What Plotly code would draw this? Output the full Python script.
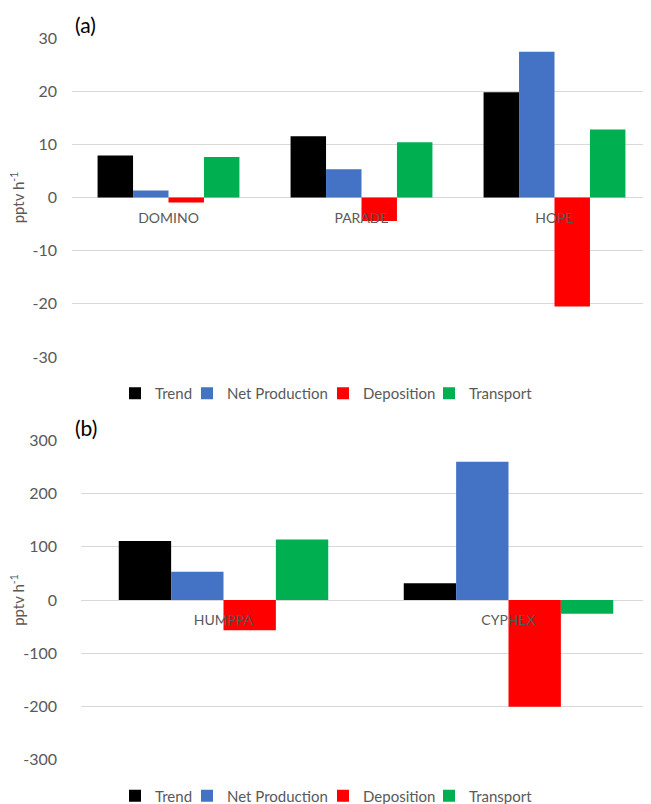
import plotly.graph_objects as go

# ---------------- data ----------------
categories_a = ["DOMINO", "PARADE", "HOPE"]
trend_a = [7.9, 11.5, 19.8]
netprod_a = [1.3, 5.3, 27.4]
depo_a = [-0.95, -4.4, -20.5]
transport_a = [7.6, 10.4, 12.8]

categories_b = ["HUMPPA", "CYPHEX"]
trend_b = [111, 31.5]
netprod_b = [53, 260]
depo_b = [-57, -201]
transport_b = [114, -26]

series_names = ["Trend", "Net Production", "Deposition", "Transport"]
series_colors = ["#000000", "#4472C4", "#FF0000", "#00B050"]

yticks_a = [-30, -20, -10, 0, 10, 20, 30]
yticks_b = [-300, -200, -100, 0, 100, 200, 300]

# ---------------- layout geometry ----------------
OFF = 8                      # page body margin in the browser
W, H = 651 - OFF, 804 - OFF  # figure size so it ends at the window edge
FONT = "Lato"
GRAY = "#595959"
GRID = "#D9D9D9"

def px(p):  # screen pixel from left -> paper fraction
    return (p - OFF) / W

def py(p):  # screen pixel from top -> paper fraction
    return 1 - (p - OFF) / H

legend_widths = [27, 91, 61, 65]   # per-entry legend slot widths

fig = go.Figure()

data_a = [trend_a, netprod_a, depo_a, transport_a]
data_b = [trend_b, netprod_b, depo_b, transport_b]

for name, color, vals, lw in zip(series_names, series_colors, data_a, legend_widths):
    fig.add_trace(go.Bar(x=categories_a, y=vals, name=name, marker_color=color,
                         marker_line_width=0, xaxis="x", yaxis="y",
                         legend="legend", legendwidth=lw))
for name, color, vals, lw in zip(series_names, series_colors, data_b, legend_widths):
    fig.add_trace(go.Bar(x=categories_b, y=vals, name=name, marker_color=color,
                         marker_line_width=0, xaxis="x2", yaxis="y2",
                         legend="legend2", legendwidth=lw))

ya_dom = [py(357), py(38)]
yb_dom = [py(759.5), py(440.5)]

common_y = dict(showgrid=True, gridcolor=GRID, gridwidth=1, zeroline=True,
                zerolinecolor=GRID, zerolinewidth=1, showline=False, ticks="",
                tickfont=dict(family=FONT, size=16, color=GRAY),
                ticklabelstandoff=14, automargin=False)
common_x = dict(showgrid=False, zeroline=False, showline=False, ticks="",
                tickfont=dict(family=FONT, size=14, color=GRAY),
                anchor="free", ticklabelstandoff=10, automargin=False)

legend_common = dict(orientation="h", xanchor="left", yanchor="middle",
                     font=dict(family=FONT, size=15, color=GRAY),
                     bgcolor="rgba(0,0,0,0)", itemwidth=30, traceorder="normal")

title_font = dict(family=FONT, size=15, color=GRAY)

fig.update_layout(
    width=W, height=H,
    margin=dict(l=0, r=0, t=0, b=0, autoexpand=False),
    paper_bgcolor="white", plot_bgcolor="white",
    barmode="group", bargap=0.265, bargroupgap=0,
    xaxis=dict(common_x, domain=[px(72), 1], position=(ya_dom[0] + ya_dom[1]) / 2),
    yaxis=dict(common_y, domain=ya_dom, range=[-30, 30], tickvals=yticks_a,
               ticktext=[str(v) for v in yticks_a],
               title=dict(text="pptv h<sup>-1</sup>", font=title_font, standoff=7)),
    xaxis2=dict(common_x, domain=[px(81), 1], position=(yb_dom[0] + yb_dom[1]) / 2),
    yaxis2=dict(common_y, domain=yb_dom, range=[-300, 300], tickvals=yticks_b,
                ticktext=[str(v) for v in yticks_b],
                title=dict(text="pptv h<sup>-1</sup>", font=title_font, standoff=7)),
    legend=dict(legend_common, x=px(115), y=py(393.5)),
    legend2=dict(legend_common, x=px(115), y=py(796)),
    annotations=[
        dict(text="(a)", xref="paper", yref="paper", x=px(73), y=py(25),
             xanchor="left", yanchor="middle", showarrow=False,
             font=dict(family=FONT, size=21, color="#000000")),
        dict(text="(b)", xref="paper", yref="paper", x=px(73), y=py(428),
             xanchor="left", yanchor="middle", showarrow=False,
             font=dict(family=FONT, size=21, color="#000000")),
    ],
)

fig.write_html("out.html")
